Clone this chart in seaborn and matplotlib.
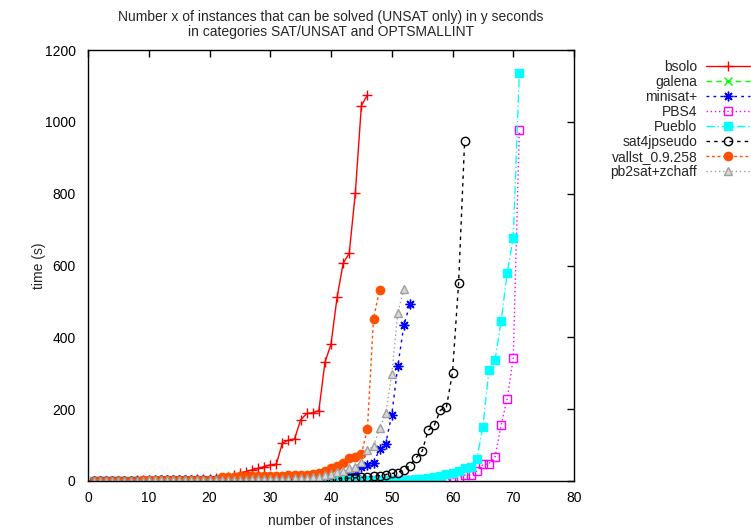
import matplotlib
matplotlib.use("Agg")
import matplotlib.pyplot as plt
from matplotlib.lines import Line2D
import seaborn as sns
import pandas as pd

title = "Number x of instances that can be solved (UNSAT only) in y seconds\nin categories SAT/UNSAT and OPTSMALLINT"
xlabel = "number of instances"
ylabel = "time (s)"
xticks = [0, 10, 20, 30, 40, 50, 60, 70, 80]
yticks = [0, 200, 400, 600, 800, 1000, 1200]

names = ["bsolo", "galena", "minisat+", "PBS4", "Pueblo", "sat4jpseudo",
         "vallst_0.9.258", "pb2sat+zchaff"]

bsolo = [0.3, 0.5, 0.6, 0.8, 1, 1, 1.2, 1.5, 1.8, 2,
         2.2, 2.5, 2.8, 3, 3.3, 3.6, 4, 4.5, 5, 5.5,
         7, 9, 12, 17, 23, 26, 31, 35, 40, 45,
         47, 106, 114, 117, 170, 188, 190, 196, 330, 381,
         511, 606, 634, 801, 1045, 1075]
galena = []
minisat = [0.5, 0.6, 0.7, 0.8, 0.9, 1, 1.1, 1.2, 1.3, 1.4,
           1.5, 1.6, 1.7, 1.8, 1.9, 2, 2.1, 2.2, 2.3, 2.4,
           2.5, 2.6, 2.7, 2.8, 3, 3.2, 3.4, 3.6, 3.8, 4,
           4.3, 4.6, 5, 5.3, 5.6, 6, 6.4, 6.8, 7.2, 7.6,
           8, 10, 14, 17, 38, 45, 51, 88, 104, 184,
           320, 434, 492]
pbs4 = [0.1, 0.1, 0.1, 0.1, 0.2, 0.2, 0.2, 0.2, 0.2, 0.3,
        0.3, 0.3, 0.3, 0.4, 0.4, 0.4, 0.4, 0.5, 0.5, 0.5,
        0.5, 0.6, 0.6, 0.6, 0.7, 0.7, 0.7, 0.8, 0.8, 0.8,
        0.9, 0.9, 1, 1, 1.1, 1.1, 1.2, 1.2, 1.3, 1.3,
        1.4, 1.4, 1.5, 1.5, 1.6, 1.6, 1.7, 1.8, 1.9, 2,
        2.1, 2.2, 2.3, 2.4, 2.5, 2.6, 2.8, 3, 3.5, 6,
        9, 16, 18, 28, 46, 48, 66, 156, 228, 342,
        978]
pueblo = [0.2, 0.2, 0.2, 0.3, 0.3, 0.3, 0.3, 0.4, 0.4, 0.4,
          0.4, 0.5, 0.5, 0.5, 0.5, 0.6, 0.6, 0.6, 0.7, 0.7,
          0.7, 0.8, 0.8, 0.8, 0.9, 0.9, 1, 1, 1.1, 1.1,
          1.2, 1.2, 1.3, 1.3, 1.4, 1.4, 1.5, 1.5, 1.6, 1.6,
          1.7, 1.7, 1.8, 1.8, 1.9, 1.9, 2, 2.1, 2.2, 2.5,
          3, 3.5, 4, 5, 6, 8, 10, 14, 19, 23,
          29, 35, 39, 60, 151, 308, 336, 445, 579, 677,
          1136]
sat4j = [0.3, 0.4, 0.5, 0.6, 0.7, 0.8, 0.9, 1, 1.1, 1.2,
         1.3, 1.4, 1.5, 1.6, 1.7, 1.8, 1.9, 2, 2.1, 2.2,
         2.3, 2.4, 2.5, 2.6, 2.8, 3, 3.2, 3.4, 3.6, 3.8,
         4, 4.2, 4.4, 4.6, 4.8, 5, 5.3, 5.6, 6, 6.3,
         6.6, 7, 8, 9, 10, 11, 13, 15, 18, 21,
         23, 32, 43, 65, 83, 141, 155, 197, 206, 302,
         550, 948]
vallst = [0.5, 0.6, 0.7, 0.8, 0.9, 1, 1.1, 1.2, 1.4, 1.6,
          1.8, 2, 2.2, 2.4, 2.6, 2.8, 3, 3.2, 3.4, 3.7,
          4, 11, 12, 12, 13, 13, 13, 14, 14, 14,
          15, 15, 16, 16, 17, 18, 20, 23, 29, 37,
          43, 49, 63, 66, 75, 146, 452, 532]
pb2sat = [0.5, 0.6, 0.7, 0.8, 0.9, 1, 1.1, 1.2, 1.3, 1.4,
          1.5, 1.6, 1.7, 1.8, 1.9, 2, 2.2, 2.4, 2.6, 2.8,
          3, 3.2, 3.4, 3.6, 3.8, 4, 4.3, 4.6, 5, 5.3,
          5.6, 6, 6.5, 7, 7.5, 8, 10, 12, 16, 20,
          26, 29, 35, 38, 54, 86, 97, 147, 188, 297,
          469, 535]

series = [bsolo, galena, minisat, pbs4, pueblo, sat4j, vallst, pb2sat]
colors = ["#ff0000", "#00ff00", "#0000ff", "#ff00ff", "#00ffff", "#000000",
          "#ff5000", "#a0a0a0"]
styles = [
    dict(linestyle="-", marker="+", markersize=7, mfc="none"),
    dict(linestyle=(0, (4, 3)), marker="x", markersize=6, mfc="none"),
    dict(linestyle=(0, (2, 3)), marker=(8, 2, 0), markersize=7, mfc="none"),
    dict(linestyle=(0, (1, 2)), marker="s", markersize=5.5, mfc="none"),
    dict(linestyle=(0, (6, 2, 1, 2)), marker="s", markersize=5.5, mfc=None),
    dict(linestyle=(0, (2.5, 3)), marker="o", markersize=6, mfc="none"),
    dict(linestyle=(0, (2, 2)), marker="o", markersize=6, mfc=None),
    dict(linestyle=(0, (1, 2)), marker="^", markersize=6, mfc="#d8d8d8"),
]

sns.set_theme(style="white")
plt.rcParams["font.family"] = ["Liberation Sans", "DejaVu Sans"]

fig = plt.figure(figsize=(7.51, 5.29), dpi=100)
ax = fig.add_axes([88 / 751, 1 - 481 / 529, (574 - 88) / 751, (481 - 50) / 529])

handles = []
for name, vals, col, st in zip(names, series, colors, styles):
    mfc = col if st["mfc"] is None else st["mfc"]
    kw = dict(linestyle=st["linestyle"], marker=st["marker"],
              markersize=st["markersize"], markerfacecolor=mfc,
              markeredgecolor=col, markeredgewidth=1.0, linewidth=1.0)
    if vals:
        df = pd.DataFrame({"n": list(range(1, len(vals) + 1)), "t": vals})
        sns.lineplot(data=df, x="n", y="t", ax=ax, color=col, legend=False,
                     **kw)
    handles.append(Line2D([], [], color=col, **kw))

ax.set_xlim(0, 80)
ax.set_ylim(0, 1200)
ax.set_xticks(xticks)
ax.set_yticks(yticks)
ax.tick_params(direction="in", top=True, right=True, length=5, width=1,
               labelsize=10, colors="black")
ax.tick_params(axis="x", pad=7)
ax.tick_params(axis="y", pad=9)
for s in ax.spines.values():
    s.set_color("black")
    s.set_linewidth(1.0)
ax.set_xlabel(xlabel, fontsize=10, labelpad=6.5)
ax.set_ylabel(ylabel, fontsize=10, labelpad=-1)
ax.set_title(title, fontsize=10, pad=10, linespacing=1.1)

leg = fig.legend(handles, names, loc="upper right",
                 bbox_to_anchor=(750 / 751, 1 - 60 / 529), frameon=False,
                 markerfirst=False, fontsize=10, handlelength=3.2,
                 labelspacing=0.07, handletextpad=0.6, borderpad=0,
                 borderaxespad=0, numpoints=1)

fig.savefig("out.png", dpi=100)
